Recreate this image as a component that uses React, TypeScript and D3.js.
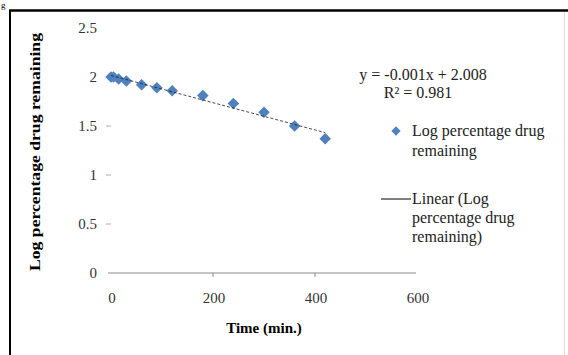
import React, { useEffect, useRef } from "react";
import * as d3 from "d3";

// time points (min) and the log % drug remaining
const times = [0, 5, 15, 30, 60, 90, 120, 180, 240, 300, 360, 420];
const logRemaining = [2.0, 2.0, 1.98, 1.96, 1.92, 1.89, 1.86, 1.81, 1.73, 1.64, 1.5, 1.37];
const xTicks = [0, 200, 400, 600];
const yTicks = [0, 0.5, 1, 1.5, 2, 2.5];
const equationText = "y = -0.001x + 2.008";
const r2Text = "R² = 0.981";
const seriesLabel = ["Log percentage drug", "remaining"];
const trendLabel = ["Linear (Log", "percentage drug", "remaining)"];

const W = 568;
const H = 355;
const BLUE = "#4F81BD";
const FONT = "'Liberation Serif', 'Times New Roman', serif";

const App: React.FC = () => {
  const svgRef = useRef<SVGSVGElement | null>(null);

  useEffect(() => {
    const svgEl = svgRef.current;
    if (!svgEl) return;
    const svg = d3.select(svgEl);
    svg.selectAll("*").remove();

    const x = d3.scaleLinear().domain([0, 600]).range([111, 417]);
    const y = d3.scaleLinear().domain([0, 2.5]).range([273, 28]);

    svg.append("rect").attr("width", W).attr("height", H).attr("fill", "#fff");

    // outer frame (bottom is cut off in the picture)
    svg.append("line").attr("x1", 9).attr("x2", W).attr("y1", 10.5).attr("y2", 10.5)
      .attr("stroke", "#000").attr("stroke-width", 2.5);
    svg.append("line").attr("x1", 10).attr("x2", 10).attr("y1", 10).attr("y2", H)
      .attr("stroke", "#000").attr("stroke-width", 2);
    svg.append("line").attr("x1", 564.5).attr("x2", 564.5).attr("y1", 12).attr("y2", H)
      .attr("stroke", "#ddd").attr("stroke-width", 1);

    // stray caption glyph at the top-left corner
    svg.append("text").attr("x", 1).attr("y", 8).attr("font-family", FONT)
      .attr("font-size", 9).text("g");

    const g = svg.append("g").attr("font-family", FONT);

    // x axis line
    g.append("line")
      .attr("x1", x(0) - 3).attr("x2", x(600) - 1)
      .attr("y1", y(0)).attr("y2", y(0))
      .attr("stroke", "#8a8a8a").attr("stroke-width", 1);

    g.selectAll(".xtick")
      .data(xTicks.filter((d) => d > 0 && d < 600))
      .enter().append("line")
      .attr("x1", (d) => x(d)).attr("x2", (d) => x(d))
      .attr("y1", y(0)).attr("y2", y(0) + 4)
      .attr("stroke", "#8a8a8a");

    g.selectAll(".xlab")
      .data(xTicks)
      .enter().append("text")
      .attr("x", (d) => x(d) + 1)
      .attr("y", y(0) + 30)
      .attr("text-anchor", "middle")
      .attr("font-size", 15)
      .attr("fill", "#333")
      .text((d) => String(d));

    // y ticks: only small dashes, no visible axis line
    g.selectAll(".ytick")
      .data(yTicks.filter((d) => d > 0 && d < 2.5))
      .enter().append("line")
      .attr("x1", x(0) - 5).attr("x2", x(0))
      .attr("y1", (d) => y(d)).attr("y2", (d) => y(d))
      .attr("stroke", "#aaa");

    g.selectAll(".ylab")
      .data(yTicks)
      .enter().append("text")
      .attr("x", 97)
      .attr("y", (d) => y(d) + 5)
      .attr("text-anchor", "end")
      .attr("font-size", 15)
      .attr("fill", "#333")
      .text((d) => String(d));

    // axis titles
    g.append("text")
      .attr("x", 264).attr("y", 333)
      .attr("text-anchor", "middle")
      .attr("font-size", 15).attr("font-weight", "bold")
      .text("Time (min.)");

    g.append("text")
      .attr("transform", "translate(40,152) rotate(-90)")
      .attr("text-anchor", "middle")
      .attr("font-size", 15).attr("font-weight", "bold")
      .attr("textLength", 238).attr("lengthAdjust", "spacingAndGlyphs")
      .text("Log percentage drug remaining");

    // linear trend line from a least squares fit
    const pts = times.map((t, i) => [t, logRemaining[i]] as [number, number]);
    const mx = d3.mean(times)!;
    const my = d3.mean(logRemaining)!;
    const slope =
      d3.sum(pts, (p) => (p[0] - mx) * (p[1] - my)) / d3.sum(pts, (p) => (p[0] - mx) ** 2);
    const intercept = my - slope * mx;
    const tx = d3.extent(times) as [number, number];

    // diamond markers
    const diamond = d3.symbol().type(d3.symbolDiamond2).size(85);
    g.selectAll(".pt")
      .data(pts)
      .enter().append("path")
      .attr("d", diamond)
      .attr("transform", (d) => `translate(${x(d[0])},${y(d[1])})`)
      .attr("fill", BLUE);

    // dashed trend line is drawn over the markers
    g.append("line")
      .attr("x1", x(tx[0])).attr("y1", y(intercept + slope * tx[0]))
      .attr("x2", x(tx[1])).attr("y2", y(intercept + slope * tx[1]))
      .attr("stroke", "#1a1a2a").attr("stroke-width", 1)
      .attr("stroke-dasharray", "3,2").attr("stroke-opacity", 0.8);

    // equation
    g.append("text").attr("x", 423).attr("y", 80).attr("text-anchor", "middle")
      .attr("font-size", 16).attr("fill", "#222").text(equationText);
    g.append("text").attr("x", 418).attr("y", 98).attr("text-anchor", "middle")
      .attr("font-size", 16).attr("fill", "#222").text(r2Text);

    // legend
    g.append("path")
      .attr("d", d3.symbol().type(d3.symbolDiamond2).size(55))
      .attr("transform", "translate(396,131)")
      .attr("fill", BLUE);
    g.append("text").attr("x", 412).attr("y", 136).attr("font-size", 16).attr("fill", "#222")
      .selectAll("tspan").data(seriesLabel).enter().append("tspan")
      .attr("x", 412).attr("dy", (_, i) => (i === 0 ? 0 : 20)).text((d) => d);

    g.append("line").attr("x1", 381).attr("x2", 411).attr("y1", 199).attr("y2", 199)
      .attr("stroke", "#000").attr("stroke-width", 1);
    g.append("text").attr("x", 412).attr("y", 204).attr("font-size", 16).attr("fill", "#222")
      .selectAll("tspan").data(trendLabel).enter().append("tspan")
      .attr("x", 412).attr("dy", (_, i) => (i === 0 ? 0 : 19)).text((d) => d);
  }, []);

  return (
    <svg
      ref={svgRef}
      width={W}
      height={H}
      style={{ position: "absolute", left: 0, top: 0 }}
    />
  );
};

export default App;
